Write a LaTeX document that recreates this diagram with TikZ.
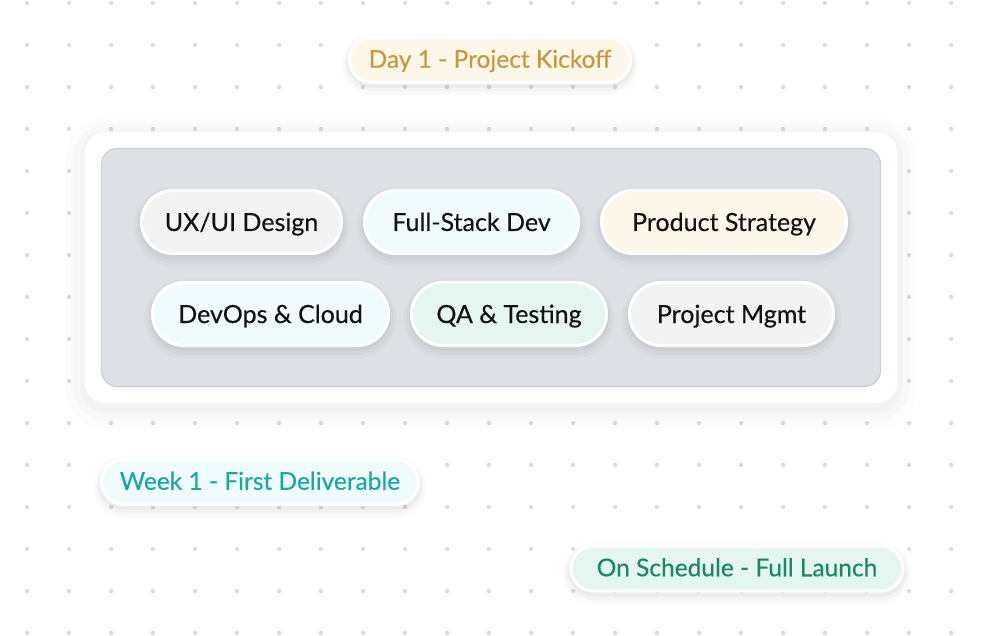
\documentclass[tikz,border=0pt]{standalone}
\usepackage{fontspec}
\setmainfont{Lato}[FakeBold=0.35]
\usetikzlibrary{positioning}
\definecolor{dotgray}{HTML}{DDDDDD}
\definecolor{boardfill}{HTML}{DDE1E6}
\definecolor{boardline}{HTML}{C9CFD7}
\definecolor{softgray}{HTML}{F3F3F3}
\definecolor{softcyan}{HTML}{EFFBFC}
\definecolor{softcream}{HTML}{FDF7EA}
\definecolor{softmint}{HTML}{E4F6EF}
\definecolor{inkgold}{HTML}{C9983C}
\definecolor{inkteal}{HTML}{18A8A8}
\definecolor{inkgreen}{HTML}{1B8766}
\tikzstyle{softshadow} = [preaction={draw=black, fill=none, draw opacity=0.018, line width=16pt, transform canvas={yshift=-5pt}}, preaction={draw=black, fill=none, draw opacity=0.022, line width=10pt, transform canvas={yshift=-4pt}}, preaction={draw=black, fill=none, draw opacity=0.03, line width=5pt, transform canvas={yshift=-3pt}}]
\tikzstyle{pill} = [rectangle, rounded corners=31.5pt, minimum height=63pt, text height=18pt, text depth=0pt, draw=white, line width=3pt, text=black!93, font=\fontsize{25}{29}\selectfont, softshadow]
\tikzstyle{tag} = [rectangle, rounded corners=22.5pt, minimum height=45pt, text height=17.5pt, text depth=2pt, draw=white, line width=3pt, font=\fontsize{24.5}{28}\selectfont, softshadow]

\begin{document}
\begin{tikzpicture}[x=1pt, y=-1pt, node distance=20pt]
\useasboundingbox[fill=white] (0,0) rectangle (982,636);
\foreach \i in {0,...,22}
  \foreach \j in {0,...,15}
    \fill[dotgray] (27+42*\i, 3+42*\j) circle (2.2pt);

\node(panel)[rectangle, rounded corners=20pt, minimum width=812pt, minimum height=271pt, fill=white, preaction={draw=black, fill=none, draw opacity=0.012, line width=40pt, transform canvas={yshift=-6pt}}, preaction={draw=black, fill=none, draw opacity=0.015, line width=24pt, transform canvas={yshift=-5pt}}, preaction={draw=black, fill=none, draw opacity=0.02, line width=10pt, transform canvas={yshift=-4pt}}] at (491,267.5) {};
\node(board)[rectangle, rounded corners=16pt, minimum width=779pt, minimum height=238pt, fill=boardfill, draw=boardline, line width=1.2pt] at (491,267.5) {};

\node(uxui)[pill, fill=softgray, minimum width=200pt] at (241.5,222) {UX/UI Design};
\node(fullstack)[pill, fill=softcyan, minimum width=214pt, right=of uxui] {Full-Stack Dev};
\node(product)[pill, fill=softcream, minimum width=245pt, right=of fullstack] {Product Strategy};
\node(devops)[pill, fill=softcyan, minimum width=236pt] at (270.5,314) {DevOps \& Cloud};
\node(qa)[pill, fill=softmint, minimum width=195pt, right=of devops] {QA \& Testing};
\node(pm)[pill, fill=softgray, minimum width=204pt, right=of qa] {Project Mgmt};

\node(kickoff)[tag, fill=softcream, text=inkgold, minimum width=281pt] at (490,60) {Day 1 - Project Kickoff};
\node(week)[tag, fill=softcyan, text=inkteal, minimum width=317pt] at (260,482) {Week 1 - First Deliverable};
\node(launch)[tag, fill=softmint, text=inkgreen, minimum width=332pt] at (737,568.5) {On Schedule - Full Launch};
\end{tikzpicture}
\end{document}
